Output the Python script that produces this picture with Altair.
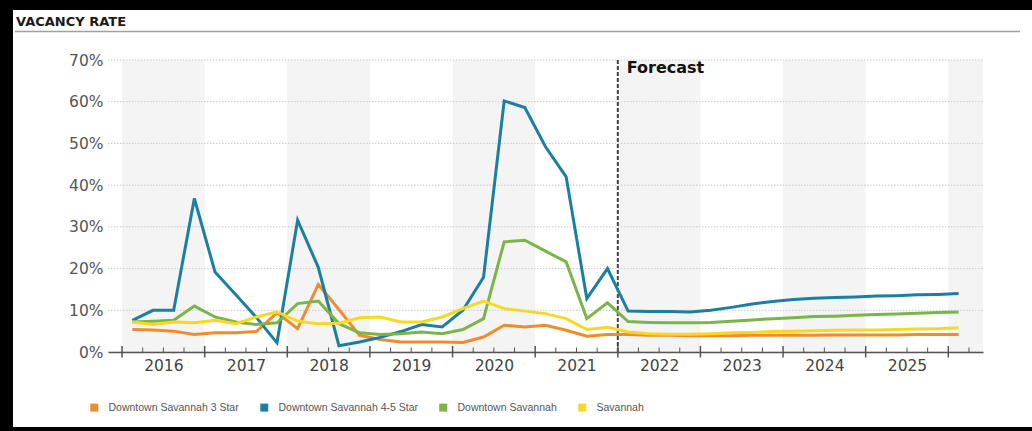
import altair as alt
import pandas as pd

# ---- chart text -------------------------------------------------------------
title_text = "VACANCY RATE"
forecast_label = "Forecast"
forecast_start = 2022.0

series_names = [
    "Downtown Savannah 3 Star",
    "Downtown Savannah 4-5 Star",
    "Downtown Savannah",
    "Savannah",
]
series_colors = ["#f28b2c", "#1b7fa3", "#7bb547", "#f7d923"]

# ---- quarterly vacancy rate (%), 2016 Q1 .. 2026 Q1 -------------------------
years = list(range(2016, 2027))
quarter_starts = [(y, q) for y in years for q in range(4)][:41]

three_star = [5.4, 5.3, 5.0, 4.2, 4.6, 4.6, 4.9, 9.4, 5.6, 16.2, 10.2, 4.0,
              3.0, 2.4, 2.4, 2.4, 2.3, 3.6, 6.4, 6.0, 6.4, 5.2, 3.8, 4.2,
              4.2, 4.0, 4.0, 3.9, 3.9, 3.9, 4.0, 4.0, 4.0, 4.0, 4.1, 4.1,
              4.1, 4.1, 4.2, 4.2, 4.2]
four_five_star = [7.6, 10.0, 10.0, 36.8, 19.2, 13.8, 8.3, 2.2, 31.6, 20.3, 1.5, 2.4,
                  3.5, 4.9, 6.6, 6.0, 10.0, 17.9, 60.2, 58.6, 49.2, 42.0, 12.8, 20.0,
                  9.8, 9.7, 9.7, 9.6, 10.0, 10.7, 11.5, 12.1, 12.6, 12.9, 13.05, 13.2,
                  13.4, 13.5, 13.7, 13.8, 14.0]
downtown = [7.2, 7.4, 7.6, 11.0, 8.4, 7.2, 6.6, 7.0, 11.6, 12.2, 6.8, 4.6,
            4.2, 4.4, 4.8, 4.4, 5.4, 8.0, 26.4, 26.8, 24.2, 21.6, 8.0, 11.8,
            7.3, 7.1, 7.0, 7.0, 7.1, 7.4, 7.7, 8.0, 8.2, 8.5, 8.6, 8.8,
            9.0, 9.1, 9.3, 9.45, 9.6]
savannah = [7.2, 6.6, 7.2, 7.0, 7.6, 6.8, 8.4, 9.6, 7.4, 6.8, 6.9, 8.2,
            8.4, 7.2, 7.2, 8.4, 10.4, 12.2, 10.4, 9.8, 9.2, 8.0, 5.4, 5.9,
            4.8, 4.4, 4.25, 4.25, 4.4, 4.6, 4.7, 4.9, 5.0, 5.1, 5.2, 5.3,
            5.3, 5.4, 5.5, 5.6, 5.8]

# ---- axes -------------------------------------------------------------------
y_ticks = [0, 10, 20, 30, 40, 50, 60, 70]
year_labels = list(range(2016, 2026))
shaded_years = [2016, 2018, 2020, 2022, 2024, 2026]
major_ticks = years
minor_ticks = [y + k / 4 for y in years for k in (1, 2, 3) if y + k / 4 <= 2026.3]

x_domain = [2015.83, 2026.42]
y_domain = [0, 70]

W, H = 875, 292
PAD = {"left": 108, "top": 60, "right": 49, "bottom": 79}

AXIS_FONT = "DejaVu Sans"
TEXT_GREY = "#555555"

# ---- tables -----------------------------------------------------------------
rows = []
for name, vals in zip(series_names, [three_star, four_five_star, downtown, savannah]):
    for (yr, q), v in zip(quarter_starts, vals):
        rows.append({"t": yr + (q + 0.5) / 4, "rate": v, "series": name})
lines_df = pd.DataFrame(rows)

bands_df = pd.DataFrame({"t": shaded_years, "t_end": [y + 1 for y in shaded_years]})
grid_df = pd.DataFrame({"rate": y_ticks})
major_df = pd.DataFrame({"t": major_ticks})
minor_df = pd.DataFrame({"t": minor_ticks})
one_row = pd.DataFrame({"label": [title_text]})
forecast_df = pd.DataFrame({"t": [forecast_start], "label": [forecast_label]})

xs = alt.Scale(domain=x_domain, nice=False, zero=False)
ys = alt.Scale(domain=y_domain, nice=False, zero=False)

x_axis = alt.Axis(values=[y + 0.5 for y in year_labels], labelExpr="floor(datum.value)",
                  ticks=False, grid=False, domain=True, domainColor=TEXT_GREY,
                  domainWidth=1.5, labelFont=AXIS_FONT, labelFontSize=15.5,
                  labelColor="#444444", labelPadding=6, zindex=1)
y_axis = alt.Axis(values=y_ticks, labelExpr="datum.value + '%'", ticks=False,
                  grid=False, domain=False, labelFont=AXIS_FONT, labelFontSize=15.5,
                  labelColor=TEXT_GREY, labelPadding=5)


def xq(field):
    return alt.X(field, scale=xs, title=None, axis=x_axis)


def yq(field):
    return alt.Y(field, scale=ys, title=None, axis=y_axis)


# ---- frame and heading ------------------------------------------------------
frame_top = alt.Chart(one_row).mark_rect(color="#000000").encode(
    x=alt.value(-PAD["left"]), x2=alt.value(W + PAD["right"]),
    y=alt.value(-PAD["top"]), y2=alt.value(-50))
frame_left = alt.Chart(one_row).mark_rect(color="#000000").encode(
    x=alt.value(-PAD["left"]), x2=alt.value(-95),
    y=alt.value(-PAD["top"]), y2=alt.value(H + PAD["bottom"]))
frame_bottom = alt.Chart(one_row).mark_rect(color="#000000").encode(
    x=alt.value(-PAD["left"]), x2=alt.value(W + PAD["right"]),
    y=alt.value(367), y2=alt.value(H + PAD["bottom"]))

heading = alt.Chart(one_row).mark_text(
    align="left", baseline="middle", font="DejaVu Sans", fontWeight="bold",
    fontSize=13, color="#1a1a1a").encode(
    x=alt.value(-92), y=alt.value(-38.5), text="label:N")
heading_rule = alt.Chart(one_row).mark_rule(color="#a0a0a0", strokeWidth=1.5).encode(
    x=alt.value(-93), x2=alt.value(912), y=alt.value(-28.5))

# ---- plot background --------------------------------------------------------
bands = alt.Chart(bands_df).mark_rect(color="#f4f4f4", clip=True).encode(
    x=xq("t:Q"), x2="t_end:Q", y=alt.value(0), y2=alt.value(H))

grid = alt.Chart(grid_df).mark_rule(color="#c9c9c9", strokeWidth=1, strokeDash=[1.5, 1.5]).encode(
    y=yq("rate:Q"), x=alt.value(0), x2=alt.value(W))

forecast_rule = alt.Chart(forecast_df).mark_rule(
    color="#444444", strokeWidth=2, strokeDash=[4, 2]).encode(
    x=xq("t:Q"), y=alt.value(0), y2=alt.value(H))

forecast_text = alt.Chart(forecast_df).mark_text(
    align="left", baseline="middle", font="DejaVu Sans", fontWeight="bold",
    fontSize=16, color="#111111", dx=9).encode(
    x=xq("t:Q"), y=alt.value(8), text="label:N")

# ---- series -----------------------------------------------------------------
lines = alt.Chart(lines_df).mark_line(strokeWidth=3, strokeJoin="miter").encode(
    x=xq("t:Q"),
    y=yq("rate:Q"),
    color=alt.Color("series:N", sort=series_names,
                    scale=alt.Scale(domain=series_names, range=series_colors),
                    legend=alt.Legend(title=None, orient="none", direction="horizontal",
                                      legendX=-19, legendY=342, padding=0,
                                      symbolType="square", symbolSize=16, symbolStrokeWidth=4,
                                      symbolOpacity=1, labelFont="Liberation Sans",
                                      labelFontSize=10.5, labelColor=TEXT_GREY,
                                      labelOffset=9, columnPadding=15)),
    order=alt.Order("t:Q"),
)

# ---- x-axis tick marks ------------------------------------------------------
major = alt.Chart(major_df).mark_rule(color=TEXT_GREY, strokeWidth=1.5).encode(
    x=xq("t:Q"), y=alt.value(H - 6), y2=alt.value(H + 5.5))
minor = alt.Chart(minor_df).mark_rule(color=TEXT_GREY, strokeWidth=1).encode(
    x=xq("t:Q"), y=alt.value(H - 4.5), y2=alt.value(H))

chart = alt.layer(
    frame_top, frame_left, frame_bottom, heading, heading_rule,
    bands, grid, forecast_rule, lines, forecast_text, major, minor,
).properties(
    width=W, height=H, padding=PAD, autosize=alt.AutoSizeParams(type="none"),
    background="#ffffff",
).configure_view(strokeWidth=0)

chart.save("out.html", embed_options={"renderer": "svg", "actions": False})
